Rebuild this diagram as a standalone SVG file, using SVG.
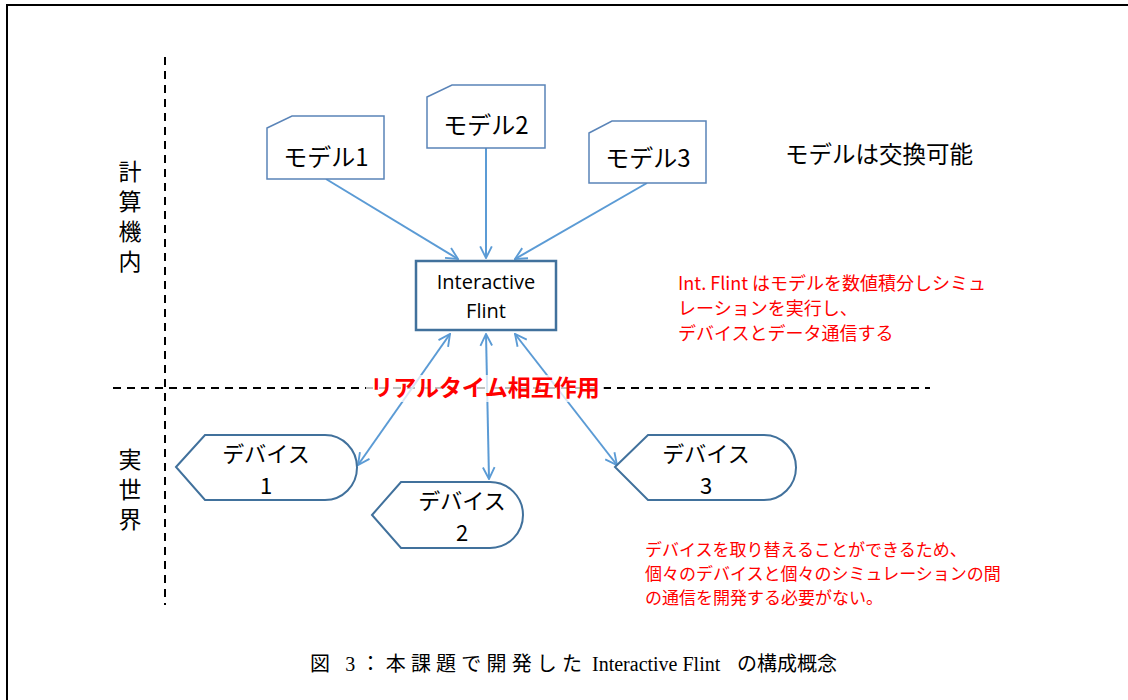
<svg xmlns="http://www.w3.org/2000/svg" width="1128" height="700" viewBox="0 0 1128 700">
<style>
.jp{font-family:"Noto Sans CJK JP",sans-serif;fill:#000;}
.red{font-family:"Noto Sans CJK JP",sans-serif;fill:#ff0000;}
.vt{font-family:"Noto Sans CJK JP",sans-serif;fill:#000;font-size:23px;writing-mode:vertical-rl;letter-spacing:7px;}
.shape{fill:#fff;stroke:#5a84b8;stroke-width:1.5;}
.dev{fill:#fff;stroke:#41719c;stroke-width:2;}
.conn{stroke:#5b9bd5;stroke-width:2;fill:none;}
.dash{stroke:#000;stroke-width:2;stroke-dasharray:8,6;fill:none;}
.cap{font-family:"Liberation Serif","Noto Sans CJK JP",serif;font-size:20px;fill:#000;}
</style>
<defs>
<marker id="ah" viewBox="0 0 12 12" refX="11" refY="6" markerWidth="14" markerHeight="14" markerUnits="userSpaceOnUse" orient="auto-start-reverse">
<path d="M1,1 L11,6 L1,11" fill="none" stroke="#5b9bd5" stroke-width="1.6"/>
</marker>
</defs>
<rect width="1128" height="700" fill="#fff"/>
<path d="M7,700 L7,5 L1128,5" fill="none" stroke="#000" stroke-width="2"/>
<g id="dividers">
<line class="dash" x1="165" y1="57" x2="165" y2="605"/>
<line class="dash" x1="113" y1="388" x2="930" y2="388"/>
</g>
<g id="zone-labels">
<text class="vt" x="130" y="160">計算機内</text>
<text class="vt" x="130" y="448">実世界</text>
</g>
<g id="connectors">
<line class="conn" x1="326" y1="179" x2="458" y2="259" marker-end="url(#ah)"/>
<line class="conn" x1="486" y1="148" x2="486" y2="258" marker-end="url(#ah)"/>
<line class="conn" x1="647" y1="183" x2="515" y2="259" marker-end="url(#ah)"/>
<line class="conn" x1="450" y1="334" x2="358" y2="465" marker-start="url(#ah)" marker-end="url(#ah)"/>
<line class="conn" x1="486" y1="334" x2="489" y2="479" marker-start="url(#ah)" marker-end="url(#ah)"/>
<line class="conn" x1="515" y1="334" x2="617" y2="465" marker-start="url(#ah)" marker-end="url(#ah)"/>
</g>
<g id="model1">
<path class="shape" d="M267,128 L292,116 L384,116 L384,179 L267,179 Z"/>
<text class="jp" x="326" y="166" font-size="24" text-anchor="middle">モデル1</text>
</g>
<g id="model2">
<path class="shape" d="M427,97 L452,85 L545,85 L545,148 L427,148 Z"/>
<text class="jp" x="486" y="134" font-size="24" text-anchor="middle">モデル2</text>
</g>
<g id="model3">
<path class="shape" d="M589,133 L612,121 L706,121 L706,183 L589,183 Z"/>
<text class="jp" x="648" y="167" font-size="24" text-anchor="middle">モデル3</text>
</g>
<g id="model-note">
<text class="jp" x="785" y="163" font-size="23.5">モデルは交換可能</text>
</g>
<g id="interactive-flint">
<rect x="416" y="261" width="140" height="69" fill="#fff" stroke="#41719c" stroke-width="2.5"/>
<text x="486" y="289" font-family="'Open Sans','Liberation Sans',sans-serif" font-size="20" text-anchor="middle">Interactive</text>
<text x="486" y="318" font-family="'Open Sans','Liberation Sans',sans-serif" font-size="20" text-anchor="middle">Flint</text>
</g>
<g id="flint-note">
<text class="red" x="678" y="290" font-size="18">Int. Flint はモデルを数値積分しシミュ</text>
<text class="red" x="678" y="315" font-size="18">レーションを実行し、</text>
<text class="red" x="678" y="340" font-size="18">デバイスとデータ通信する</text>
</g>
<g id="realtime-label">
<rect x="366" y="375" width="238" height="27" fill="#fff" fill-opacity="0.75"/>
<text class="red" x="485" y="396" font-size="23" font-weight="bold" text-anchor="middle">リアルタイム相互作用</text>
</g>
<g id="device1">
<path class="dev" d="M176,467 L205,435 L325,435 A32,32.5 0 0 1 325,500 L205,500 Z"/>
<text class="jp" x="266" y="462" font-size="22" text-anchor="middle">デバイス</text>
<text class="jp" x="266" y="494" font-size="22" text-anchor="middle">1</text>
</g>
<g id="device2">
<path class="dev" d="M372,515 L401,482 L490,482 A33,33 0 0 1 490,548 L401,548 Z"/>
<text class="jp" x="462" y="509" font-size="22" text-anchor="middle">デバイス</text>
<text class="jp" x="462" y="541" font-size="22" text-anchor="middle">2</text>
</g>
<g id="device3">
<path class="dev" d="M615,467 L648,435 L764,435 A32,32.5 0 0 1 764,500 L648,500 Z"/>
<text class="jp" x="706" y="462" font-size="22" text-anchor="middle">デバイス</text>
<text class="jp" x="706" y="494" font-size="22" text-anchor="middle">3</text>
</g>
<g id="device-note">
<text class="red" x="645" y="556" font-size="17">デバイスを取り替えることができるため、</text>
<text class="red" x="645" y="580" font-size="17">個々のデバイスと個々のシミュレーションの間</text>
<text class="red" x="645" y="604" font-size="17">の通信を開発する必要がない。</text>
</g>
<g id="caption">
<text class="cap" x="310" y="671" font-size="21" textLength="272" lengthAdjust="spacing">図 3：本課題で開発した</text>
<text class="cap" x="592" y="671" font-size="19">Interactive Flint</text>
<text class="cap" x="737" y="671">の構成概念</text>
</g>
</svg>
